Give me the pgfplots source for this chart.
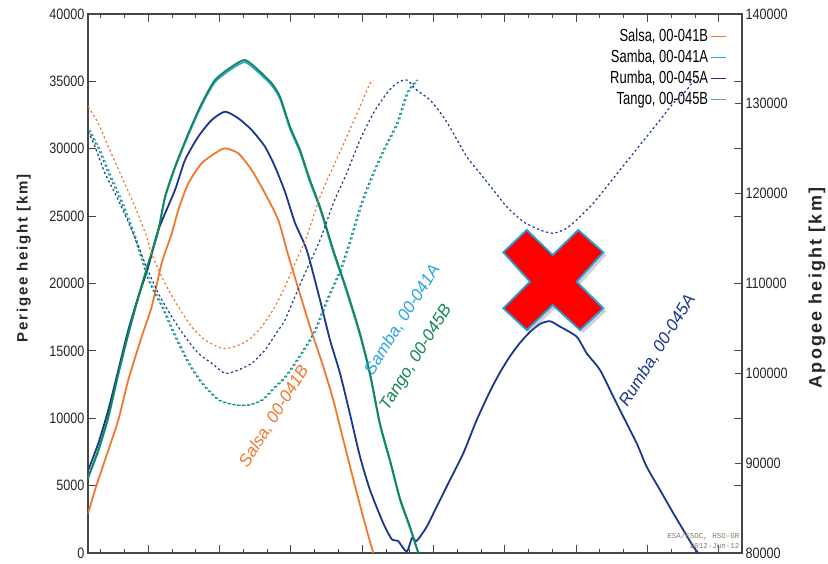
\documentclass[border=0pt]{standalone}
\usepackage{pgfplots}
\pgfplotsset{compat=1.18}
\usepackage{fontspec}
\setmainfont{Liberation Sans}
\newfontfamily\narrowfont{Liberation Sans}[FakeStretch=0.84]
\newfontfamily\legendfont{Liberation Sans}[FakeStretch=0.74]
\newfontfamily\labelfont{Liberation Sans}[LetterSpace=12]
\newfontfamily\monofont{Liberation Mono}
\usetikzlibrary{shadows}
\definecolor{salsa}{RGB}{240,120,45}
\definecolor{samba}{RGB}{40,165,225}
\definecolor{rumba}{RGB}{25,55,140}
\definecolor{tango}{RGB}{20,135,80}
\definecolor{xedge}{RGB}{30,160,220}
\definecolor{axisgray}{RGB}{70,70,70}
\begin{document}
\begin{tikzpicture}
\pgfplotsset{
  common/.style={
    scale only axis, width=654bp, height=539bp,
    xmin=88, xmax=742, clip=false,
    axis line style={axisgray, line width=1.3bp},
    tick style={axisgray, line width=1bp},
    major tick length=8bp, minor tick length=4bp,
    tick align=inside,
    scaled y ticks=false,
    yticklabel={\pgfmathprintnumber[fixed,precision=0,1000 sep={},assume math mode=true]{\tick}},
    yticklabel style={font=\narrowfont\fontsize{15bp}{18bp}\selectfont, text=black!85},
  },
}
\begin{axis}[common, name=ax,
  ymin=0, ymax=40000,
  xtick={148.3,219.6,290.9,362.2,433.5,504.8,576.1,647.4,718.7},
  minor xtick={100.8,124.5,172.1,195.8,243.4,267.2,314.7,338.5,386.0,409.8,457.3,481.1,528.6,552.4,599.9,623.7,671.2,695.0},
  xticklabels={},
  ytick={0,5000,...,40000},
  legend plot pos=right,
  legend cell align=right,
  legend image code/.code={\draw[#1, solid, line width=1.2bp] (0bp,0bp) -- (15bp,0bp);},
  legend style={draw=none, fill=none, at={(1,1)}, anchor=north east, xshift=-12bp, yshift=-10bp,
    font=\legendfont\fontsize{17.5bp}{20bp}\selectfont, row sep=0bp,
    nodes={text height=12.5bp, text depth=3.5bp, inner sep=2.5bp}},
]
\addlegendimage{salsa}
\addlegendentry{Salsa, 00-041B}
\addlegendimage{samba}
\addlegendentry{Samba, 00-041A}
\addlegendimage{rumba}
\addlegendentry{Rumba, 00-045A}
\addlegendimage{tango!70!white}
\addlegendentry{Tango, 00-045B}
% Samba perigee (nearly coincident with Tango)
\addplot[samba, line width=1.8bp, smooth, tension=0.4, forget plot] coordinates {
(88.3,5600) (98.3,7560) (108.3,10030) (118.3,13240) (128.3,16200) (138.3,18920) (148.3,21400) (158.3,23870) (165,26340) (175,28570) (188.3,31010) (201.7,33220) (215,34950) (231.7,35930) (245,36430) (258.3,35680) (271.7,34700) (280,33700) (290,31480) (300,29750) (310,27520) (320,25540) (333.3,22330) (346.7,19370) (360,16150) (370,13200) (380,9480) (390,6780) (400,3930) (410,1830) (418.3,0)
};
\addplot[salsa, line width=1.8bp, smooth, tension=0.4, forget plot] coordinates {
(88.3,2970) (95,4680) (105,6900) (118.3,9870) (128.3,12840) (141.7,16050) (151.7,18280) (161.7,21520) (171.7,23700) (178.3,25450) (188.3,27430) (201.7,28920) (215,29660) (225,30030) (238.3,29660) (251.7,28420) (265,26690) (278.3,24710) (286.7,22490) (296.7,20010) (310,16790) (323.3,13820) (333.3,11350) (343.3,8390) (356.7,4500) (366.7,1700) (373.3,0)
};
\addplot[rumba, line width=1.8bp, smooth, tension=0.4, forget plot] coordinates {
(88.3,6160) (98.3,8140) (108.3,10610) (118.3,13580) (128.3,16550) (138.3,19020) (148.3,21250) (158.3,23970) (175,26940) (185,29160) (198.3,30900) (211.7,32130) (225,32750) (238.3,32260) (251.7,31390) (265,30150) (275,28670) (285,26800) (295,24500) (306.7,22490) (320,18780) (330,15810) (340,13340) (350,10300) (360,7150) (370,4680) (383.3,2200) (392,1000) (398,900) (406.7,100) (412,1100) (416.7,900) (426.7,1950) (436.7,3440) (450,5420) (463.3,7400) (476.7,9870) (490,12000) (500,13400) (510,14600) (520,15600) (530,16400) (540,17000) (550,17200) (560,16800) (576.7,16050) (586.7,14820) (600,13580) (613.3,11600) (623.3,10120) (636.7,8140) (646.7,6400) (660,4680) (673.3,2950) (683.3,1710) (693.3,470) (698.3,0)
};
\addplot[tango, line width=1.8bp, smooth, tension=0.4, forget plot] coordinates {
(88.3,5660) (98.3,7640) (108.3,10120) (118.3,13340) (128.3,16300) (138.3,19020) (148.3,21500) (158.3,23970) (165,26440) (175,28670) (188.3,31140) (201.7,33370) (215,35100) (231.7,36090) (245,36590) (258.3,35840) (271.7,34860) (280,33860) (290,31640) (300,29910) (310,27680) (320,25700) (333.3,22490) (346.7,19520) (360,16300) (370,13340) (380,9600) (390,6900) (400,4050) (410,1950) (418.3,0)
};
\node[salsa, rotate=58, anchor=base, font=\itshape\fontsize{17bp}{20bp}\selectfont] at (axis cs:278.3,9944) {Salsa, 00-041B};
\node[samba, rotate=58, anchor=base, font=\itshape\fontsize{17bp}{20bp}\selectfont] at (axis cs:406.7,17105) {Samba, 00-041A};
\node[tango, rotate=58, anchor=base, font=\itshape\fontsize{17bp}{20bp}\selectfont] at (axis cs:420,14322) {Tango, 00-045B};
\node[rumba, rotate=58, anchor=base, font=\itshape\fontsize{17bp}{20bp}\selectfont] at (axis cs:661.7,14820) {Rumba, 00-045A};
\node[rotate=90, text=black!85, font=\labelfont\bfseries\fontsize{15bp}{18bp}\selectfont] at (rel axis cs:-0.098,0.547) {Perigee height [km]};
\node[align=right, anchor=south east, inner sep=1bp, text={rgb,255:red,140;green,120;blue,100}, font=\monofont\fontsize{7.5bp}{9.5bp}\selectfont] at (rel axis cs:0.998,0.006) {ESA/ESOC, HSO-GR\\2012-Jun-12};
\end{axis}
\begin{axis}[common,
  ymin=80000, ymax=140000,
  axis y line*=right, axis x line=none,
  ytick={80000,90000,...,140000},
  major tick length=7bp,
]
\addplot[samba, line width=1.2bp, smooth, tension=0.4, dash pattern=on 2.2bp off 2.6bp] coordinates {
(89.8,127090) (99.8,125000) (109.8,122300) (123.2,118930) (136.5,115000) (149.8,110390) (163.2,107420) (176.5,104080) (189.8,101120) (203.2,98890) (219.8,97030) (236.5,96480) (249.8,96480) (263.2,97030) (276.5,98510) (286.5,99630) (298.2,101490) (314.8,104450) (328.2,108160) (341.5,111500) (351.5,114840) (361.5,118550) (371.5,121520) (384.8,124860) (398.2,127830) (408.2,131170) (418.2,132660)
};
\addplot[salsa, line width=1.2bp, smooth, tension=0.4, dash pattern=on 2.2bp off 2.6bp] coordinates {
(88.3,129680) (98.3,127830) (108.3,125230) (121.7,121890) (135,118550) (146.7,115210) (151.7,113300) (165,110020) (178.3,107420) (191.7,105190) (205,103710) (221.7,102790) (235,102970) (248.3,103710) (261.7,105190) (275,107420) (285,109650) (296,112500) (306.7,115210) (320,119660) (333.3,123000) (346.7,126340) (360,129680) (370,132290) (373.3,132660)
};
\addplot[rumba, line width=1.2bp, smooth, tension=0.4, dash pattern=on 2.2bp off 2.6bp] coordinates {
(88.3,126900) (95,125230) (105,122270) (118.3,119300) (131.7,115960) (145,112250) (158.3,108910) (171.7,106310) (185,104080) (198.3,102230) (211.7,101120) (225,100000) (238.3,100370) (251.7,101120) (265,102600) (278.3,104820) (285,105940) (302,110390) (320,114840) (333.3,118930) (346.7,122270) (360,125980) (373.3,128950) (386.7,131170) (396.7,132290) (406.7,132660) (416.7,131540) (430,130430) (443.3,128570) (453.3,126730) (466.7,124120) (480,122270) (493.3,120410) (506.7,118550) (523.3,116880) (540,115960) (553.3,115590) (566.7,116150) (580,117440) (593.3,118930) (606.7,120780) (620,122640) (633.3,124490) (646.7,126340) (660,128200) (673.3,130060) (686.7,131540) (696.7,133020)
};
\addplot[tango, line width=1.2bp, smooth, tension=0.4, dash pattern=on 2.2bp off 2.6bp] coordinates {
(88.3,127090) (98.3,125000) (108.3,122300) (121.7,118930) (135,115000) (148.3,110390) (161.7,107420) (175,104080) (188.3,101120) (201.7,98890) (218.3,97030) (235,96480) (248.3,96480) (261.7,97030) (275,98510) (285,99630) (296.7,101490) (313.3,104450) (326.7,108160) (340,111500) (350,114840) (360,118550) (370,121520) (383.3,124860) (396.7,127830) (406.7,131170) (416.7,132660)
};
\node[rotate=90, text=black!85, font=\labelfont\bfseries\fontsize{18bp}{21bp}\selectfont] at (rel axis cs:1.1147,0.4917) {Apogee height [km]};
\fill[red, draw=xedge, line width=1.8bp, drop shadow={shadow xshift=3bp, shadow yshift=-3bp, opacity=0.3, fill=black!60}]
 (rel axis cs:0.6708,0.5993) -- (rel axis cs:0.7106,0.5529) -- (rel axis cs:0.7497,0.5993) -- (rel axis cs:0.7879,0.5579) -- (rel axis cs:0.7472,0.5033) -- (rel axis cs:0.7879,0.4540) -- (rel axis cs:0.7523,0.4137) -- (rel axis cs:0.7106,0.4601) -- (rel axis cs:0.6708,0.4137) -- (rel axis cs:0.6350,0.4540) -- (rel axis cs:0.6758,0.5033) -- (rel axis cs:0.6350,0.5579) -- cycle;
\end{axis}
\pgfresetboundingbox
\path (ax.south west) ++(-88bp,-11bp) rectangle ++(828bp,564bp);
\end{tikzpicture}
\end{document}
